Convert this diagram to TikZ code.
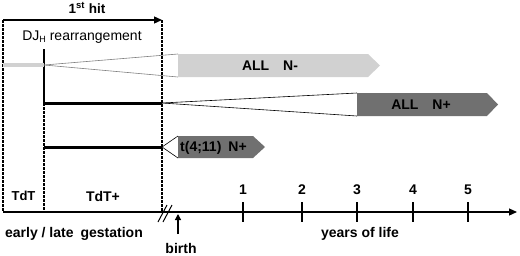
\documentclass[tikz,border=0pt]{standalone}
\usepackage{fontspec}
\setmainfont{Liberation Sans}
\usetikzlibrary{arrows.meta}
\definecolor{lightbox}{gray}{0.82}
\definecolor{darkbox}{gray}{0.44}
\begin{document}
\begin{tikzpicture}[x=1pt,y=-1pt,
  font=\bfseries\fontsize{14}{16}\selectfont,
  vdash/.style={line width=1.3pt, dash pattern=on 2.5pt off 1.5pt},
  thinline/.style={line width=0.6pt},
  thickbar/.style={line width=3pt},
  axisarrow/.style={line width=1.2pt,-{Triangle[length=8pt,width=7pt]}},
  tick/.style={line width=1.2pt},
  lbl/.style={inner sep=0pt}]
\useasboundingbox (0,0) rectangle (520,255);
% coordinates
\coordinate (tl) at (3,20);
\coordinate (tr) at (162,20);
\coordinate (bl) at (3,212);
\coordinate (br) at (162,212);
\coordinate (mt) at (44,49);
\coordinate (mm) at (44,103);
\coordinate (mb) at (44,212);
\coordinate (ax0) at (3,212);
\coordinate (ax1) at (517,212);
% top arrow
\draw[line width=1.3pt,-{Triangle[length=8pt,width=7pt]}] (tl) -- (tr);
\node[lbl,font=\bfseries\fontsize{13.5}{15}\selectfont] (hit) at (87,8) {1\textsuperscript{st} hit};
% verticals
\draw[vdash] (tl) -- (bl);
\draw[vdash] (tr) -- (br);
\draw[line width=1.5pt] (mt) -- (mm);
\draw[vdash] (mm) -- (mb);
\node[lbl,font=\fontsize{14}{16}\selectfont] (dj) at (82,37) {DJ\raisebox{-0.35ex}{\fontsize{9}{10}\selectfont H} rearrangement};
% ALL N-
\coordinate (g0) at (3,65);
\coordinate (g1) at (44,65);
\coordinate (an1) at (178,54);
\coordinate (an2) at (178,77);
\draw[line width=4pt,lightbox] (g0) -- (g1);
\draw[thinline,gray] (g1) -- (an1);
\draw[thinline,gray] (g1) -- (an2);
\fill[lightbox] (an1) -- (368,54) -- (380,65.5) -- (368,77) -- (an2) -- cycle;
\node[lbl] (alln) at (270,66) {ALL\quad N-};
% ALL N+
\coordinate (b0) at (44,103);
\coordinate (b1) at (162,103);
\coordinate (ap1) at (357,93);
\coordinate (ap2) at (357,116);
\draw[thickbar] (b0) -- (b1);
\draw[thinline] (b1) -- (ap1);
\draw[thinline] (b1) -- (ap2);
\fill[darkbox] (ap1) -- (487,93) -- (498,104.5) -- (487,116) -- (ap2) -- cycle;
\node[lbl] (allp) at (421,105) {ALL\quad N+};
% t(4;11)
\coordinate (c0) at (44,147);
\coordinate (c1) at (162,147);
\coordinate (tp1) at (178,136);
\coordinate (tp2) at (178,158);
\draw[thickbar] (c0) -- (c1);
\draw[thinline] (c1) -- (tp1);
\draw[thinline] (c1) -- (tp2);
\fill[darkbox] (tp1) -- (253,136) -- (265,147) -- (253,158) -- (tp2) -- cycle;
\node[lbl,anchor=west] (tx) at (180,147.5) {t(4;11)\enspace N+};
% TdT labels
\node[lbl,font=\bfseries\fontsize{13}{15}\selectfont] (tdt) at (23.5,196) {TdT};
\node[lbl] (tdtp) at (103,196) {TdT+};
% axis
\draw[axisarrow] (ax0) -- (ax1);
\draw[line width=1pt] (158,222) -- (167,205);
\draw[line width=1pt] (163,222) -- (172,205);
\foreach \x/\n in {243/1,302/2,357/3,413/4,468/5}{
  \draw[tick] (\x,202) -- (\x,222);
  \node[lbl] (y\n) at (\x,190) {\n};
}
\coordinate (bi0) at (178,234);
\coordinate (bi1) at (178,214);
\draw[line width=1.2pt,-{Triangle[length=6pt,width=6pt]}] (bi0) -- (bi1);
\node[lbl] (birth) at (181,248) {birth};
\node[lbl] (gest) at (74,234) {early / late\enspace gestation};
\node[lbl] (yol) at (360,234) {years of life};
\end{tikzpicture}
\end{document}
